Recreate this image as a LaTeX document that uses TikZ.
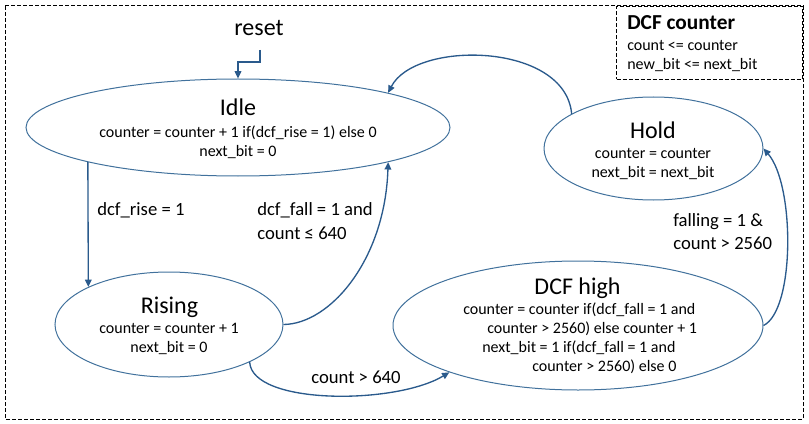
\documentclass[tikz,border=0pt]{standalone}
\usepackage{fontspec}
\setmainfont{Carlito}
\usetikzlibrary{shapes.geometric,arrows.meta}
\definecolor{stateline}{HTML}{41719C}
\definecolor{arrowline}{HTML}{2A5A8C}
\begin{document}
\begin{tikzpicture}[x=0.75pt,y=-0.75pt,
  state/.style={ellipse, draw=stateline, line width=0.75pt, inner sep=0pt},
  title/.style={font=\fontsize{18}{22}\selectfont, inner sep=0pt, anchor=base},
  body/.style={font=\fontsize{12}{14.3}\selectfont, inner sep=0pt, align=center},
  cond/.style={font=\fontsize{14}{17.5}\selectfont, inner sep=0pt, align=left, anchor=base west},
  trans/.style={draw=arrowline, line width=1pt, -{Triangle[length=5.5pt,width=5pt]}},
  frame/.style={draw=black, line width=0.75pt, dash pattern=on 3pt off 1.5pt}]
\useasboundingbox (0,0) rectangle (809,424);
\draw [frame] (5,6) rectangle (803,419);
\node [frame, anchor=north east, minimum width=139.5pt, minimum height=54.75pt] (dcfbox) at (803,6) {};
\node [anchor=base west, inner sep=0pt, align=left, font=\fontsize{12}{13.9}\selectfont] (dcfboxtext) at (627,69.5) {{\fontsize{16}{18}\selectfont\bfseries DCF counter}\\[2.2pt]count <= counter\\new\_bit <= next\_bit};
\node [state, minimum width=318pt, minimum height=72.75pt] (idle) at (238,127.5) {};
\node [title] (idletitle) at (238,116) {Idle};
\node [body] (idlebody) at (238,142) {counter = counter + 1 if(dcf\_rise = 1) else 0\\next\_bit = 0};
\node [state, minimum width=164.25pt, minimum height=77.25pt] (hold) at (653.5,148.5) {};
\node [title] (holdtitle) at (653,138) {Hold};
\node [body] (holdbody) at (653,163.6) {counter = counter\\next\_bit = next\_bit};
\node [state, minimum width=171pt, minimum height=78.75pt] (rising) at (169,324.5) {};
\node [title] (risingtitle) at (169.5,313) {Rising};
\node [body] (risingbody) at (169,338.5) {counter = counter + 1\\next\_bit = 0};
\node [state, minimum width=277.5pt, minimum height=96.75pt] (dcf) at (578,325.5) {};
\node [title] (dcftitle) at (577.5,294) {DCF high};
\node [body, align=left, anchor=west] (dcfbody) at (463,338.5) {counter = counter if(dcf\_fall = 1 and\\\hspace*{18pt}counter > 2560) else counter + 1\\\hspace*{14.25pt}next\_bit = 1 if(dcf\_fall = 1 and\\\hspace*{51.75pt}counter > 2560) else 0};
\node [title] (reset) at (259,36) {reset};
\coordinate (resetend) at (260,50);
\draw [trans] (resetend) -- ++(0,12) -| (idle.north);
\node [cond] (risecond) at (97,215) {dcf\_rise = 1};
\node [cond] (fallcond) at (257,239) {dcf\_fall = 1 and\\count ≤ 640};
\node [cond] (highcond) at (311,383) {count > 640};
\node [cond] (holdcond) at (673,249.5) {falling = 1 \&\\count > 2560};
\draw [trans] (idle.193) -- (rising.155);
\draw [trans] (rising.east) .. controls (330,324) and (385,260) .. (idle.-13);
\draw [trans] (rising.-25) .. controls (252,405) and (395,405) .. (dcf.200);
\draw [trans] (dcf.east) .. controls (795,310) and (795,185) .. (hold.east);
\draw [trans] (hold.157) .. controls (565,42) and (415,40) .. (idle.13);
\end{tikzpicture}
\end{document}
